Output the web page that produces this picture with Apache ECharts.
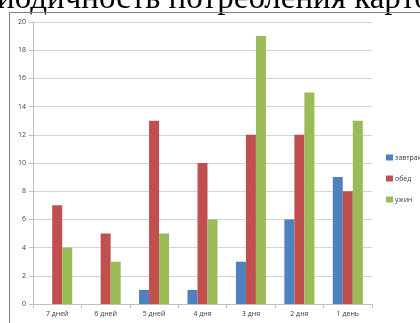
<!DOCTYPE html>
<html>
<head>
<meta charset="utf-8">
<script src="https://cdn.jsdelivr.net/npm/echarts@6/dist/echarts.min.js"></script>
<style>
  html, body { margin: 0; padding: 0; background: #fff; }
  #chart { width: 420px; height: 323px; }
</style>
</head>
<body>
<div id="chart"></div>
<script>
var days = ['7 дней', '6 дней', '5 дней', '4 дня', '3 дня', '2 дня', '1 день'];
var breakfast = [0, 0, 1, 1, 3, 6, 9];
var lunch = [7, 5, 13, 10, 12, 12, 8];
var dinner = [4, 3, 5, 6, 19, 15, 13];
var titleText = 'иодичность потребления карто';

var chart = echarts.init(document.getElementById('chart'));
var labelFont = '"Open Sans", "DejaVu Sans", sans-serif';

var makeBar = function (name, data, color) {
    return {
        name: name,
        type: 'bar',
        data: data,
        barGap: '0%',
        barCategoryGap: '38%',
        itemStyle: { color: color },
        emphasis: { disabled: true }
    };
};

chart.setOption({
    animation: false,
    grid: { left: 33, right: 48, top: 22, bottom: 19 },
    legend: {
        orient: 'vertical',
        left: 381,
        top: 149,
        itemWidth: 7,
        itemHeight: 6,
        itemGap: 14,
        icon: 'rect',
        textStyle: { fontSize: 7, color: '#404040', fontFamily: labelFont, padding: [0, 0, 0, -3] },
        data: ['завтрак', 'обед', 'ужин']
    },
    xAxis: {
        type: 'category',
        data: days,
        axisLine: { lineStyle: { color: '#bfbfbf' } },
        axisTick: { show: true, length: 4, lineStyle: { color: '#bfbfbf' } },
        axisLabel: { fontSize: 7, color: '#404040', fontFamily: labelFont, margin: 6 }
    },
    yAxis: {
        type: 'value',
        min: 0,
        max: 20,
        interval: 2,
        axisLine: { show: true, lineStyle: { color: '#bfbfbf' } },
        axisTick: { show: true, length: 4, lineStyle: { color: '#bfbfbf' } },
        splitLine: { lineStyle: { color: '#d4d4d4', width: 1 } },
        axisLabel: { fontSize: 7, color: '#404040', fontFamily: labelFont, margin: 7 }
    },
    series: [
        makeBar('завтрак', breakfast, '#4f81bd'),
        makeBar('обед', lunch, '#c0504d'),
        makeBar('ужин', dinner, '#9bbb59')
    ],
    graphic: [
        {
            type: 'text',
            x: -3,
            y: -17,
            style: {
                text: titleText,
                fontFamily: '"Liberation Serif", "DejaVu Serif", serif',
                fontSize: 33,
                fill: '#000'
            }
        },
        {
            type: 'polyline',
            shape: { points: [[9.5, 323], [9.5, 12.5], [420, 12.5]] },
            style: { stroke: '#7f7f7f', lineWidth: 1, fill: null }
        }
    ]
});
</script>
</body>
</html>
